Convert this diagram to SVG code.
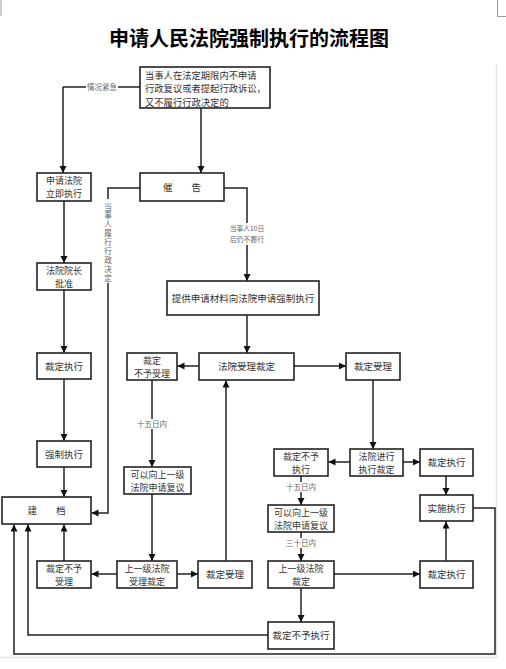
<svg xmlns="http://www.w3.org/2000/svg" width="506" height="669" viewBox="0 0 506 669">
<defs>
<marker id="ah" markerWidth="8" markerHeight="8" refX="7" refY="3.5" orient="auto" markerUnits="userSpaceOnUse">
<path d="M0,0 L7,3.5 L0,7 Z" fill="#111"/>
</marker>
<style>
.bx{fill:#fff;stroke:#222;stroke-width:1.6}
.t{font-family:"Noto Sans CJK SC","Liberation Serif",serif;font-size:9px;fill:#333;text-anchor:middle}
.t1{font-family:"Noto Sans CJK SC","Liberation Serif",serif;font-size:9.5px;fill:#333;text-anchor:middle}
.tl{font-family:"Noto Sans CJK SC","Liberation Serif",serif;font-size:9.3px;fill:#333}
.lb{font-family:"Noto Sans CJK SC","Liberation Serif",serif;font-size:7.5px;fill:#666;text-anchor:middle}
.lbs{font-family:"Noto Sans CJK SC","Liberation Serif",serif;font-size:6.8px;fill:#666;text-anchor:middle}
.vt{font-family:"Noto Sans CJK SC","Liberation Serif",serif;font-size:7.5px;fill:#666;writing-mode:vertical-rl;letter-spacing:1.4px}
.c{fill:none;stroke:#222;stroke-width:1.5}
.ca{fill:none;stroke:#222;stroke-width:1.5;marker-end:url(#ah)}
.bg{fill:#fff}
</style>
</defs>
<rect width="506" height="669" fill="#fff"/>
<g id="frame" fill="none" stroke="#999" stroke-width="1">
<path d="M1,0 V16"/>
<path d="M497.5,0 V16.5 H506"/>
</g>
<g id="page" fill="none" stroke="#e4e4e4" stroke-width="1.5">
<path d="M496.5,64 V657.5 H0"/>
</g>
<text x="249" y="46" font-family="'Noto Sans CJK SC','Liberation Sans',sans-serif" font-size="20" font-weight="bold" text-anchor="middle" fill="#000">申请人民法院强制执行的流程图</text>

<g id="connectors">
<path class="c" d="M140,87 H63"/><path class="ca" d="M63,87 V173"/>
<rect class="bg" x="86" y="82" width="32" height="10"/>
<text class="lb" x="102" y="90">情况紧急</text>
<path class="ca" d="M201,108 V173"/>
<path class="ca" d="M140,188 H108 V513 H91.5"/>
<rect class="bg" x="103" y="199" width="10" height="84"/>
<text class="vt" x="108" y="203">当事人履行行政决定</text>
<path class="ca" d="M224,188 H247 V281"/>
<rect class="bg" x="225" y="223" width="44" height="22"/>
<text class="lbs" x="247" y="231">当事人10日</text>
<text class="lbs" x="247" y="242">后仍不履行</text>
<path class="ca" d="M247,315 V353"/>
<path class="ca" d="M199,366 H177.5"/>
<path class="ca" d="M294,366 H346"/>
<path class="ca" d="M152,380 V467"/>
<rect class="bg" x="136" y="419" width="32" height="10"/>
<text class="lb" x="152" y="427">十五日内</text>
<path class="ca" d="M152,494 V561"/>
<path class="ca" d="M117,574 H91.5"/>
<path class="ca" d="M177,574 H198"/>
<path class="ca" d="M226,561 V380.5"/>
<path class="ca" d="M64,201 V263"/>
<path class="ca" d="M64,290 V353"/>
<path class="ca" d="M64,379 V441"/>
<path class="ca" d="M64,467 V497"/>
<path class="ca" d="M64,561 V524.5"/>
<path class="ca" d="M373,380 V449"/>
<path class="ca" d="M350,462 H328.5"/>
<path class="ca" d="M403,462 H420"/>
<path class="ca" d="M446,476 V495"/>
<path class="ca" d="M301,476 V505"/>
<rect class="bg" x="285" y="482" width="32" height="10"/>
<text class="lb" x="301" y="490">十五日内</text>
<path class="ca" d="M301,532 V561"/>
<rect class="bg" x="285" y="538" width="32" height="10"/>
<text class="lb" x="301" y="546">三十日内</text>
<path class="ca" d="M334,574 H420"/>
<path class="ca" d="M446,561 V521.5"/>
<path class="ca" d="M301,588 V622"/>
<path class="ca" d="M268,635 H28 V524.5"/>
<path class="ca" d="M473,508 H495 V654 H14 V524.5"/>
</g>

<g id="n-start"><rect class="bx" x="140" y="67" width="130" height="41"/>
<text class="tl" x="145" y="78.5">当事人在法定期限内不申请</text>
<text class="tl" x="145" y="92">行政复议或者提起行政诉讼，</text>
<text class="tl" x="145" y="105.5">又不履行行政决定的</text></g>
<g id="n-apply-now"><rect class="bx" x="37" y="173" width="54" height="28"/>
<text class="t" x="64" y="184">申请法院</text><text class="t" x="64" y="197.2">立即执行</text></g>
<g id="n-urge"><rect class="bx" x="140" y="173" width="84" height="28"/>
<text class="t1" x="182" y="190.5">催　　告</text></g>
<g id="n-president"><rect class="bx" x="37" y="263" width="54" height="27"/>
<text class="t" x="64" y="273.5">法院院长</text><text class="t" x="64" y="286.7">批准</text></g>
<g id="n-materials"><rect class="bx" x="167" y="281" width="152" height="34"/>
<text class="t1" x="243" y="301.5">提供申请材料向法院申请强制执行</text></g>
<g id="n-exec-ruling-l"><rect class="bx" x="37" y="353" width="54" height="26"/>
<text class="t1" x="64" y="369.5">裁定执行</text></g>
<g id="n-reject-l"><rect class="bx" x="127" y="353" width="50" height="27"/>
<text class="t" x="152" y="363.5">裁定</text><text class="t" x="152" y="376.7">不予受理</text></g>
<g id="n-court-ruling"><rect class="bx" x="199" y="353" width="95" height="27"/>
<text class="t1" x="246.5" y="370">法院受理裁定</text></g>
<g id="n-accept"><rect class="bx" x="346" y="353" width="54" height="27"/>
<text class="t1" x="373" y="370">裁定受理</text></g>
<g id="n-enforce"><rect class="bx" x="37" y="441" width="54" height="26"/>
<text class="t1" x="64" y="457.5">强制执行</text></g>
<g id="n-review-l"><rect class="bx" x="124" y="467" width="67" height="27"/>
<text class="t" x="157.5" y="477.5">可以向上一级</text><text class="t" x="157.5" y="490.7">法院申请复议</text></g>
<g id="n-noexec"><rect class="bx" x="274" y="449" width="54" height="27"/>
<text class="t" x="301" y="459.5">裁定不予</text><text class="t" x="301" y="472.7">执行</text></g>
<g id="n-court-exec"><rect class="bx" x="350" y="449" width="53" height="27"/>
<text class="t" x="376.5" y="459.5">法院进行</text><text class="t" x="376.5" y="472.7">执行裁定</text></g>
<g id="n-exec-ruling-r"><rect class="bx" x="420" y="449" width="53" height="27"/>
<text class="t1" x="446.5" y="466">裁定执行</text></g>
<g id="n-archive"><rect class="bx" x="2" y="497" width="89" height="27"/>
<text class="t1" x="46.5" y="514">建　　档</text></g>
<g id="n-implement"><rect class="bx" x="420" y="495" width="53" height="26"/>
<text class="t1" x="446.5" y="511.5">实施执行</text></g>
<g id="n-review-r"><rect class="bx" x="268" y="505" width="66" height="27"/>
<text class="t" x="301" y="515.5">可以向上一级</text><text class="t" x="301" y="528.7">法院申请复议</text></g>
<g id="n-reject-b"><rect class="bx" x="37" y="561" width="54" height="27"/>
<text class="t" x="64" y="571.5">裁定不予</text><text class="t" x="64" y="584.7">受理</text></g>
<g id="n-upper-accept"><rect class="bx" x="117" y="561" width="60" height="27"/>
<text class="t" x="147" y="571.5">上一级法院</text><text class="t" x="147" y="584.7">受理裁定</text></g>
<g id="n-accept-b"><rect class="bx" x="198" y="561" width="54" height="27"/>
<text class="t1" x="225" y="578">裁定受理</text></g>
<g id="n-upper-ruling"><rect class="bx" x="268" y="561" width="66" height="27"/>
<text class="t" x="301" y="571.5">上一级法院</text><text class="t" x="301" y="584.7">裁定</text></g>
<g id="n-exec-ruling-b"><rect class="bx" x="420" y="561" width="53" height="27"/>
<text class="t1" x="446.5" y="578">裁定执行</text></g>
<g id="n-noexec-b"><rect class="bx" x="268" y="622" width="66" height="27"/>
<text class="t1" x="301" y="639">裁定不予执行</text></g>
</svg>
